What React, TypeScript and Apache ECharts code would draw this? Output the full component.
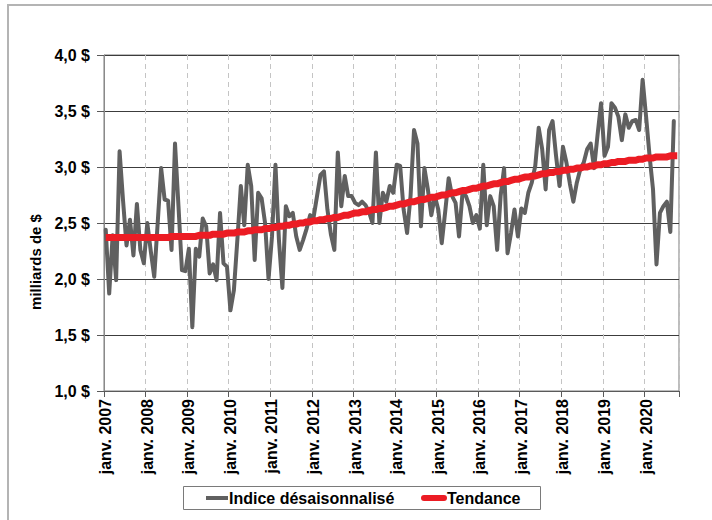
import React, { useEffect, useRef } from "react";
import * as echarts from "echarts";

const monthNames = ["janv.", "févr.", "mars", "avr.", "mai", "juin", "juil.", "août", "sept.", "oct.", "nov.", "déc."];
const startYear = 2007;
const monthCount = 166; // janv. 2007 .. oct. 2020
const categories: string[] = Array.from(
  { length: monthCount },
  (_, i) => `${monthNames[i % 12]} ${startYear + Math.floor(i / 12)}`
);

// Indice désaisonnalisé (milliards de $), janv. 2007 .. sept. 2020
const indexValues = [
  2.44, 1.87, 2.39, 1.99, 3.14, 2.70, 2.30, 2.53, 2.21, 2.67, 2.26, 2.14,
  2.50, 2.25, 2.02, 2.50, 2.99, 2.71, 2.70, 2.26, 3.21, 2.65, 2.08, 2.07,
  2.27, 1.57, 2.27, 2.20, 2.54, 2.47, 2.05, 2.13, 1.99, 2.59, 2.14, 2.11,
  1.72, 1.90, 2.35, 2.83, 2.48, 3.02, 2.83, 2.17, 2.77, 2.72, 2.50, 2.00,
  2.38, 3.02, 2.35, 1.92, 2.65, 2.56, 2.59, 2.38, 2.26, 2.35, 2.45, 2.57,
  2.55, 2.74, 2.93, 2.96, 2.62, 2.40, 2.26, 3.13, 2.65, 2.92, 2.74, 2.74,
  2.68, 2.66, 2.69, 2.66, 2.60, 2.50, 3.13, 2.50, 2.77, 2.69, 2.83, 2.77,
  3.02, 3.01, 2.62, 2.41, 2.74, 3.33, 3.21, 2.47, 2.99, 2.80, 2.57, 2.74,
  2.62, 2.32, 2.60, 2.90, 2.74, 2.68, 2.38, 2.77, 2.74, 2.65, 2.50, 2.57,
  2.45, 3.02, 2.48, 2.74, 2.65, 2.26, 2.74, 2.99, 2.23, 2.41, 2.62, 2.38,
  2.63, 2.59, 2.77, 2.86, 3.01, 3.35, 3.16, 2.80, 3.33, 3.41, 3.10, 2.83,
  3.18, 3.04, 2.85, 2.69, 2.86, 2.98, 3.04, 3.16, 3.21, 2.99, 3.29, 3.57,
  3.10, 3.18, 3.57, 3.53, 3.45, 3.24, 3.47, 3.35, 3.41, 3.42, 3.33, 3.78,
  3.45, 3.10, 2.80, 2.13, 2.59, 2.65, 2.69, 2.42, 3.41,
];

// Tendance (milliards de $), janv. 2007 .. oct. 2020
const trendValues = [
  2.37, 2.37, 2.37, 2.37, 2.37, 2.37, 2.37, 2.37, 2.37, 2.37, 2.37, 2.37,
  2.37, 2.37, 2.37, 2.37, 2.37, 2.37, 2.37, 2.38, 2.38, 2.38, 2.38, 2.38,
  2.38, 2.38, 2.38, 2.39, 2.39, 2.39, 2.39, 2.40, 2.40, 2.40, 2.40, 2.41,
  2.41, 2.41, 2.42, 2.42, 2.42, 2.43, 2.43, 2.44, 2.44, 2.44, 2.45, 2.45,
  2.46, 2.46, 2.47, 2.47, 2.48, 2.48, 2.49, 2.49, 2.50, 2.50, 2.51, 2.51,
  2.52, 2.52, 2.53, 2.53, 2.54, 2.54, 2.55, 2.55, 2.56, 2.57, 2.57, 2.58,
  2.59, 2.59, 2.60, 2.60, 2.61, 2.62, 2.62, 2.63, 2.63, 2.64, 2.65, 2.65,
  2.66, 2.67, 2.67, 2.68, 2.69, 2.69, 2.70, 2.71, 2.71, 2.72, 2.73, 2.73,
  2.74, 2.75, 2.75, 2.76, 2.77, 2.77, 2.78, 2.79, 2.79, 2.80, 2.81, 2.81,
  2.82, 2.83, 2.83, 2.84, 2.85, 2.85, 2.86, 2.87, 2.87, 2.88, 2.89, 2.89,
  2.90, 2.91, 2.91, 2.92, 2.92, 2.93, 2.94, 2.94, 2.95, 2.95, 2.96, 2.96,
  2.97, 2.97, 2.98, 2.98, 2.99, 2.99, 3.00, 3.00, 3.01, 3.01, 3.02, 3.02,
  3.03, 3.03, 3.04, 3.04, 3.05, 3.05, 3.05, 3.06, 3.06, 3.06, 3.07, 3.07,
  3.08, 3.08, 3.08, 3.09, 3.09, 3.09, 3.09, 3.10, 3.10, 3.10,
];

const seriesNames = ["Indice désaisonnalisé", "Tendance"];
const yAxisTitle = "milliards de $";
const yMin = 1.0;
const yMax = 4.0;
const yStep = 0.5;

const FONT = "'Liberation Sans', Arial, sans-serif";
const FS = 16;
const GRAY = "#606060";
const RED = "#ec1c24";

const isJanuary = (i: number) => i % 12 === 0;

export default function App() {
  const ref = useRef<HTMLDivElement>(null);

  useEffect(() => {
    if (!ref.current) return;
    const chart = echarts.init(ref.current, null, { renderer: "svg" });
    chart.setOption({
      animation: false,
      backgroundColor: "#ffffff",
      grid: {
        left: 104,
        top: 55,
        right: 33,
        bottom: 129,
        show: true,
        borderColor: "#7a7a7a",
        borderWidth: 1,
        backgroundColor: "transparent",
      },
      xAxis: {
        type: "category",
        data: categories,
        boundaryGap: true,
        axisLine: { show: true, lineStyle: { color: "#5a5a5a", width: 1 } },
        axisTick: {
          show: true,
          interval: (i: number) => isJanuary(i),
          length: 6,
          lineStyle: { color: "#5a5a5a" },
        },
        axisLabel: {
          interval: (i: number) => isJanuary(i),
          rotate: 90,
          margin: 8,
          color: "#000",
          fontFamily: FONT,
          fontWeight: "bold",
          fontSize: FS,
        },
        splitLine: {
          show: true,
          interval: (i: number) => isJanuary(i) && i > 0,
          lineStyle: { color: "#c4c4c4", width: 1, type: [5, 4] },
        },
      },
      yAxis: {
        type: "value",
        min: yMin,
        max: yMax,
        interval: yStep,
        axisLine: { show: true, lineStyle: { color: "#8a8a8a", width: 1 } },
        axisTick: { show: true, length: 7, lineStyle: { color: "#5a5a5a" } },
        axisLabel: {
          margin: 14,
          color: "#000",
          fontFamily: FONT,
          fontWeight: "bold",
          fontSize: FS,
          formatter: (v: number) => v.toFixed(1).replace(".", ",") + " $",
        },
        splitLine: { show: true, lineStyle: { color: "#3c3c3c", width: 1 } },
      },
      series: [
        {
          name: seriesNames[0],
          type: "line",
          data: indexValues,
          symbol: "none",
          lineStyle: { color: GRAY, width: 4, join: "round", cap: "round" },
          z: 2,
        },
        {
          name: seriesNames[1],
          type: "line",
          data: trendValues,
          symbol: "none",
          lineStyle: { color: RED, width: 7, join: "round", cap: "butt" },
          z: 3,
        },
      ],
      graphic: [
        {
          type: "rect",
          silent: true,
          shape: { x: 8, y: 5, width: 720, height: 530 },
          style: { fill: "none", stroke: "#b4b4b4", lineWidth: 2 },
          z: 0,
        },
        {
          type: "text",
          x: 35,
          y: 262,
          rotation: Math.PI / 2,
          style: {
            text: yAxisTitle,
            fill: "#000",
            font: `bold 15px ${FONT}`,
            align: "center",
            verticalAlign: "middle",
          },
        },
        {
          type: "rect",
          shape: { x: 183.5, y: 486.5, width: 357, height: 23 },
          style: { fill: "#fff", stroke: "#7a7a7a", lineWidth: 1 },
        },
        {
          type: "line",
          shape: { x1: 206, y1: 498, x2: 228, y2: 498 },
          style: { stroke: GRAY, lineWidth: 4 },
        },
        {
          type: "text",
          x: 229,
          y: 498,
          style: {
            text: seriesNames[0],
            fill: "#000",
            font: `bold ${FS}px ${FONT}`,
            align: "left",
            verticalAlign: "middle",
          },
        },
        {
          type: "line",
          shape: { x1: 424, y1: 498, x2: 444, y2: 498 },
          style: { stroke: RED, lineWidth: 6, lineCap: "round" },
        },
        {
          type: "text",
          x: 447,
          y: 498,
          style: {
            text: seriesNames[1],
            fill: "#000",
            font: `bold ${FS}px ${FONT}`,
            align: "left",
            verticalAlign: "middle",
          },
        },
      ],
    });
    return () => chart.dispose();
  }, []);

  return (
    <div
      ref={ref}
      style={{ position: "absolute", left: 0, top: 0, width: 712, height: 520 }}
    />
  );
}
